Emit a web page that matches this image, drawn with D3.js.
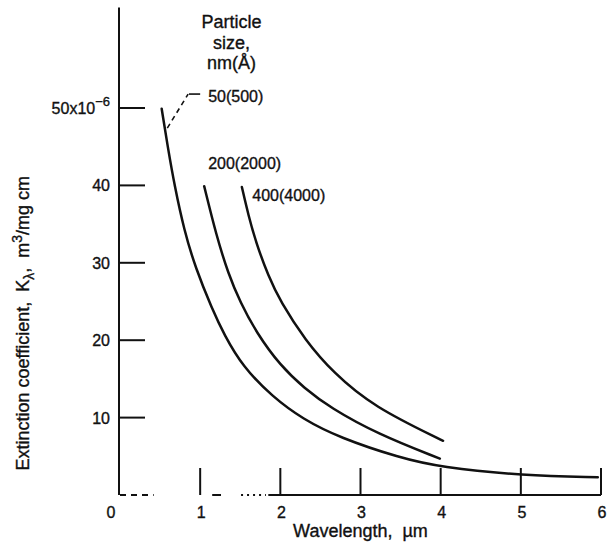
<!DOCTYPE html>
<html>
<head>
<meta charset="utf-8">
<script src="https://cdn.jsdelivr.net/npm/d3@7/dist/d3.min.js"></script>
<style>
  body { margin: 0; background: #fff; }
  text { font-family: "Liberation Sans", Arial, "DejaVu Sans", sans-serif; fill: #111; stroke: #111; stroke-width: 0.35; }
</style>
</head>
<body>
<svg id="chart" width="610" height="542"></svg>
<script>
// Extinction coefficient K (units of 1e-6 m^3/mg cm) against wavelength (um)
const wavelength50  = [0.52, 0.60, 0.68, 0.80, 0.94, 1.15, 1.30, 1.53, 1.90, 2.28, 2.74, 3.49, 3.99, 5.03, 5.96];
const extinction50  = [49.9, 44.7, 40.0, 34.2, 29.4, 24.0, 20.7, 16.6, 12.7, 9.8, 7.4, 4.8, 3.6, 2.5, 2.3];

const wavelength200 = [1.05, 1.20, 1.35, 1.50, 1.70, 2.00, 2.30, 2.62, 3.21, 3.99];
const extinction200 = [39.9, 33.6, 28.6, 24.9, 21.0, 16.7, 13.8, 11.3, 7.9, 4.7];

const wavelength400 = [1.52, 1.60, 1.70, 1.85, 2.00, 2.31, 2.66, 3.16, 4.03];
const extinction400 = [39.8, 36.2, 32.5, 28.3, 25.0, 20.0, 15.8, 11.4, 7.0];

const xTickValues = [0, 1, 2, 3, 4, 5, 6];
const yTickValues = [10, 20, 30, 40, 50];
const sizeLabels  = ["50(500)", "200(2000)", "400(4000)"];

const svg = d3.select("#chart");
const x = d3.scaleLinear().domain([0, 6]).range([120, 601]);
const y = d3.scaleLinear().domain([0, 50]).range([495, 108]);

const ink = "#111";

// vertical axis
svg.append("line")
  .attr("x1", x(0) - 1).attr("x2", x(0) - 1)
  .attr("y1", y(0)).attr("y2", y(63))
  .attr("stroke", ink).attr("stroke-width", 2);

// horizontal axis, drawn as the broken rule of the original plate
const baseRuns = [
  { from: 0,    to: 0.42, dash: "6,5" },
  { from: 1.15, to: 1.26, dash: null },
  { from: 1.51, to: 1.82, dash: "2,4" },
  { from: 1.85, to: 6,    dash: null }
];
svg.selectAll("line.base").data(baseRuns).join("line")
  .attr("class", "base")
  .attr("x1", d => x(d.from)).attr("x2", d => x(d.to))
  .attr("y1", y(0)).attr("y2", y(0))
  .attr("stroke", ink).attr("stroke-width", 2)
  .attr("stroke-dasharray", d => d.dash);

// y ticks (inward)
svg.selectAll("line.ytick").data(yTickValues).join("line")
  .attr("class", "ytick")
  .attr("x1", x(0)).attr("x2", x(0) + 25)
  .attr("y1", d => y(d)).attr("y2", d => y(d))
  .attr("stroke", ink).attr("stroke-width", 2);

// x ticks (upward)
svg.selectAll("line.xtick").data(xTickValues.filter(d => d > 0)).join("line")
  .attr("class", "xtick")
  .attr("x1", d => x(d)).attr("x2", d => x(d))
  .attr("y1", y(0)).attr("y2", y(0) - 27)
  .attr("stroke", ink).attr("stroke-width", 2);

// y tick labels
yTickValues.forEach(v => {
  const t = svg.append("text")
    .attr("x", x(0) - 10).attr("y", y(v) + 6)
    .attr("text-anchor", "end")
    .attr("font-size", 16);
  if (v === 50) {
    t.append("tspan").text("50x10");
    t.append("tspan").attr("dy", -8).attr("font-size", 13).text("\u22126");
  } else {
    t.text(v);
  }
});

// x tick labels
svg.selectAll("text.xlab").data(xTickValues).join("text")
  .attr("class", "xlab")
  .attr("x", d => x(d) + (d === 0 ? -9 : 1))
  .attr("y", y(0) + 23)
  .attr("text-anchor", "middle")
  .attr("font-size", 16)
  .text(d => d);

// axis titles
svg.append("text")
  .attr("x", x(3)).attr("y", 537)
  .attr("text-anchor", "middle")
  .attr("font-size", 18)
  .text("Wavelength,\u00a0 \u00b5m");

const yt = svg.append("text")
  .attr("transform", `translate(29,${y(22.2)}) rotate(-90)`)
  .attr("text-anchor", "middle")
  .attr("font-size", 18);
yt.append("tspan").text("Extinction coefficient,\u00a0 K");
yt.append("tspan").attr("dy", 5).attr("font-size", 14).text("\u03bb");
yt.append("tspan").attr("dy", -5).text(",\u00a0 m");
yt.append("tspan").attr("dy", -7).attr("font-size", 14).text("3");
yt.append("tspan").attr("dy", 7).text("/mg cm");

// curves
const line = d3.line()
  .x(d => x(d[0])).y(d => y(d[1]))
  .curve(d3.curveBasis);

const series = [
  d3.zip(wavelength50, extinction50),
  d3.zip(wavelength200, extinction200),
  d3.zip(wavelength400, extinction400)
];
svg.selectAll("path.curve").data(series).join("path")
  .attr("class", "curve")
  .attr("d", line)
  .attr("fill", "none")
  .attr("stroke", ink)
  .attr("stroke-width", 2.5)
  .attr("stroke-linecap", "round");

// legend heading
const heading = [["Particle", 60.4], ["size,", 57.6], ["nm(\u00c5)", 55.0]];
svg.selectAll("text.head").data(heading).join("text")
  .attr("class", "head")
  .attr("x", x(1.39)).attr("y", d => y(d[1]))
  .attr("text-anchor", "middle")
  .attr("font-size", 18)
  .text(d => d[0]);

// leader to the 50 nm curve
svg.append("path")
  .attr("d", d3.line()([[x(0.59), y(47.4)], [x(0.85), y(51.8)]]))
  .attr("fill", "none").attr("stroke", ink).attr("stroke-width", 1.6)
  .attr("stroke-dasharray", "5,4");
svg.append("line")
  .attr("x1", x(0.86)).attr("x2", x(1.0))
  .attr("y1", y(51.8)).attr("y2", y(51.8))
  .attr("stroke", ink).attr("stroke-width", 1.6);

// curve labels
const labelPos = [[1.10, 50.8], [1.10, 42.1], [1.65, 38.0]];
svg.selectAll("text.size").data(sizeLabels).join("text")
  .attr("class", "size")
  .attr("x", (d, i) => x(labelPos[i][0]))
  .attr("y", (d, i) => y(labelPos[i][1]))
  .attr("font-size", 16)
  .text(d => d);
</script>
</body>
</html>
